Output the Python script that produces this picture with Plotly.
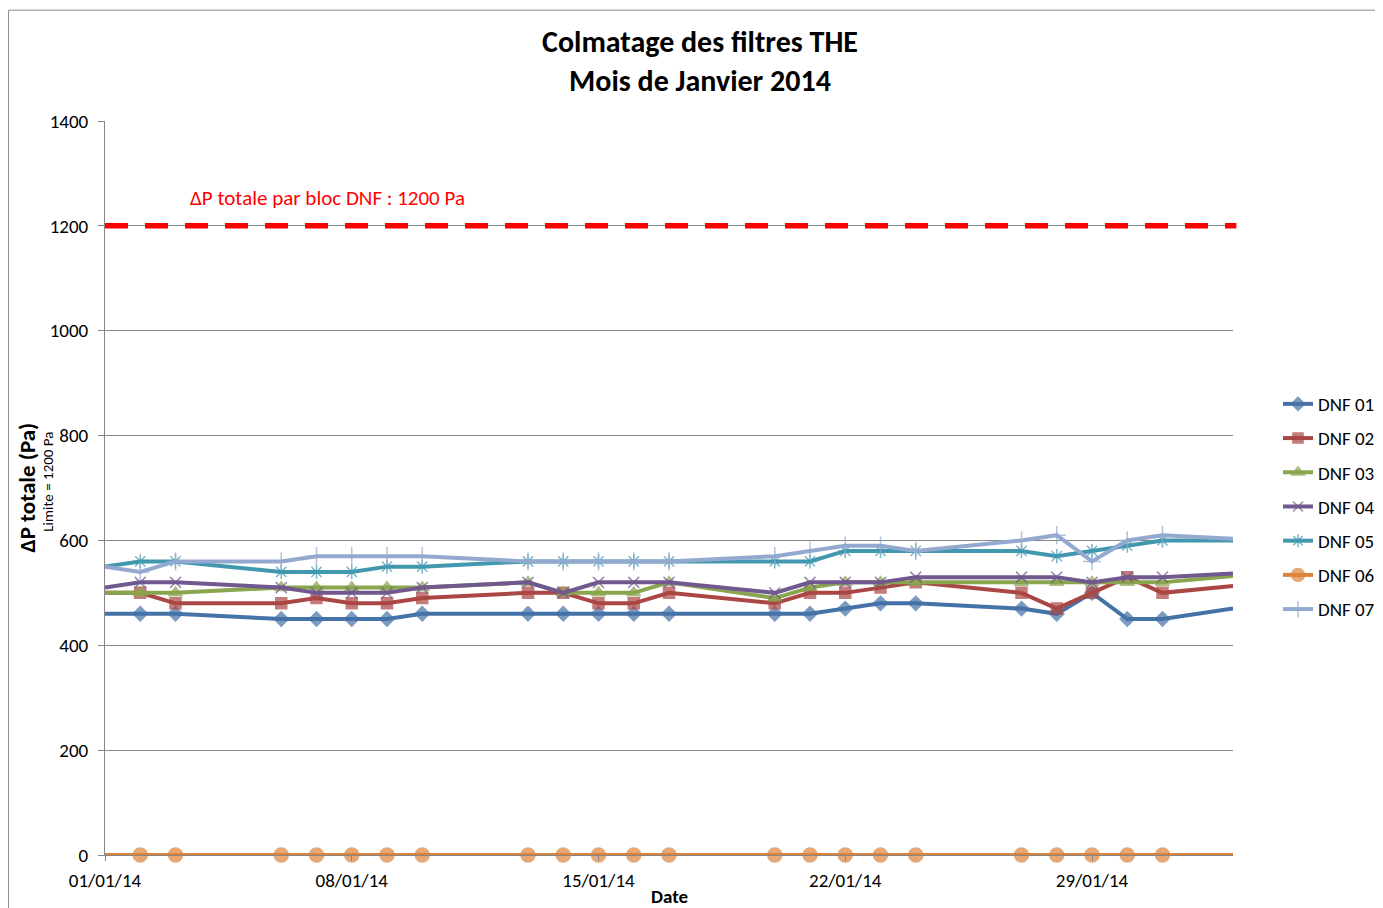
import plotly.graph_objects as go

dates = ["2014-01-01", "2014-01-02", "2014-01-03", "2014-01-06", "2014-01-07", "2014-01-08",
         "2014-01-09", "2014-01-10", "2014-01-13", "2014-01-14", "2014-01-15", "2014-01-16",
         "2014-01-17", "2014-01-20", "2014-01-21", "2014-01-22", "2014-01-23", "2014-01-24",
         "2014-01-27", "2014-01-28", "2014-01-29", "2014-01-30", "2014-01-31", "2014-02-02"]

dnf01 = [460, 460, 460, 450, 450, 450, 450, 460, 460, 460, 460, 460, 460, 460, 460, 470, 480, 480, 470, 460, 500, 450, 450, 470]
dnf02 = [500, 500, 480, 480, 490, 480, 480, 490, 500, 500, 480, 480, 500, 480, 500, 500, 510, 520, 500, 470, 500, 530, 500, 513]
dnf03 = [500, 500, 500, 510, 510, 510, 510, 510, 520, 500, 500, 500, 520, 490, 510, 520, 520, 520, 520, 520, 520, 520, 520, 532]
dnf04 = [510, 520, 520, 510, 500, 500, 500, 510, 520, 500, 520, 520, 520, 500, 520, 520, 520, 530, 530, 530, 520, 530, 530, 537]
dnf05 = [550, 560, 560, 540, 540, 540, 550, 550, 560, 560, 560, 560, 560, 560, 560, 580, 580, 580, 580, 570, 580, 590, 600, 600]
dnf06 = [0] * 24
dnf07 = [550, 540, 560, 560, 570, 570, 570, 570, 560, 560, 560, 560, 560, 570, 580, 590, 590, 580, 600, 610, 560, 600, 610, 603]

limit_value = 1200
limit_label = "ΔP totale par bloc DNF : 1200 Pa"
chart_title = "<b>Colmatage des filtres THE<br>Mois de Janvier 2014</b>"
y_title = "<b>ΔP totale (Pa)</b>"
y_subtitle = "Limite = 1200 Pa"
x_title = "<b>Date</b>"
x_range = ["2014-01-01", "2014-02-02"]

series = [
    ("DNF 01", dnf01, "#4572A7", "diamond", 11),
    ("DNF 02", dnf02, "#AA4643", "square", 11),
    ("DNF 03", dnf03, "#89A54E", "triangle-up", 12),
    ("DNF 04", dnf04, "#71588F", "x-thin-open", 11),
    ("DNF 05", dnf05, "#4198AF", "asterisk-open", 12),
    ("DNF 06", dnf06, "#DB843D", "circle", 14),
    ("DNF 07", dnf07, "#93A9CF", "cross-thin-open", 13),
]

FONT = "Carlito, Lato, 'Open Sans', sans-serif"

fig = go.Figure()
n = len(dates)
for i, (name, vals, color, sym, size) in enumerate(series):
    sizes = [0] + [size] * (n - 2) + [0]
    fig.add_trace(go.Scatter(
        x=dates, y=vals, name=name, mode="lines+markers",
        line=dict(color=color, width=4),
        marker=dict(symbol=sym, size=sizes, color=color,
                    line=dict(color=color, width=1.5)),
        legendgroup=name, cliponaxis=False,
    ))

fig.add_shape(type="line", xref="paper", x0=0, x1=1.003, yref="y", y0=limit_value, y1=limit_value,
              line=dict(color="#FF0000", width=5.5, dash="23px,17px"), layer="above")

fig.add_annotation(xref="paper", x=0.0735, yref="y", y=1253, text=limit_label, showarrow=False,
                   xanchor="left", font=dict(color="#FF0000", size=21, family=FONT))

# chart title
fig.add_annotation(xref="paper", x=0.5275, yref="paper", y=1.082, text=chart_title, showarrow=False,
                   xanchor="center", yanchor="middle", font=dict(size=30, family=FONT))

# y axis titles
fig.add_annotation(xref="paper", x=-0.0695, yref="paper", y=0.5, text=y_title, showarrow=False,
                   textangle=-90, xanchor="center", yanchor="middle", font=dict(size=23, family=FONT))
fig.add_annotation(xref="paper", x=-0.0500, yref="paper", y=0.508, text=y_subtitle, showarrow=False,
                   textangle=-90, xanchor="center", yanchor="middle", font=dict(size=15, family=FONT))

# x axis title
fig.add_annotation(xref="paper", x=0.5, yref="paper", y=-0.057, text=x_title, showarrow=False,
                   xanchor="center", yanchor="middle", font=dict(size=19, family=FONT))

fig.add_shape(type="rect", xref="paper", yref="paper", x0=-0.0855, x1=1.14, y0=-0.09, y1=1.151,
              line=dict(color="#8C8C8C", width=1), fillcolor="rgba(0,0,0,0)")

fig.update_layout(
    width=1375, height=900,
    margin=dict(l=97, r=150, t=113, b=53, autoexpand=False),
    paper_bgcolor="white", plot_bgcolor="white",
    font=dict(family=FONT, size=19, color="#000000"),
    showlegend=True,
    legend=dict(x=1.0399, xanchor="left", y=0.6403, yanchor="top",
                font=dict(size=19, family=FONT), tracegroupgap=6.5,
                traceorder="grouped", itemwidth=30),
    xaxis=dict(type="date", range=x_range, tick0="2014-01-01", dtick=7 * 86400000,
               tickformat="%d/%m/%y", showgrid=False, showline=True, linecolor="#868686",
               linewidth=1, ticks="outside", tickcolor="#868686", ticklen=5,
               ticklabelstandoff=3, tickfont=dict(size=19), zeroline=False, automargin=False),
    yaxis=dict(range=[0, 1400], dtick=200, showgrid=True, gridcolor="#868686", gridwidth=1,
               showline=True, linecolor="#868686", linewidth=1, ticks="outside",
               tickcolor="#868686", ticklen=6, ticklabelstandoff=6, tickfont=dict(size=19),
               zeroline=False, automargin=False),
)

fig.write_html("out.html")
